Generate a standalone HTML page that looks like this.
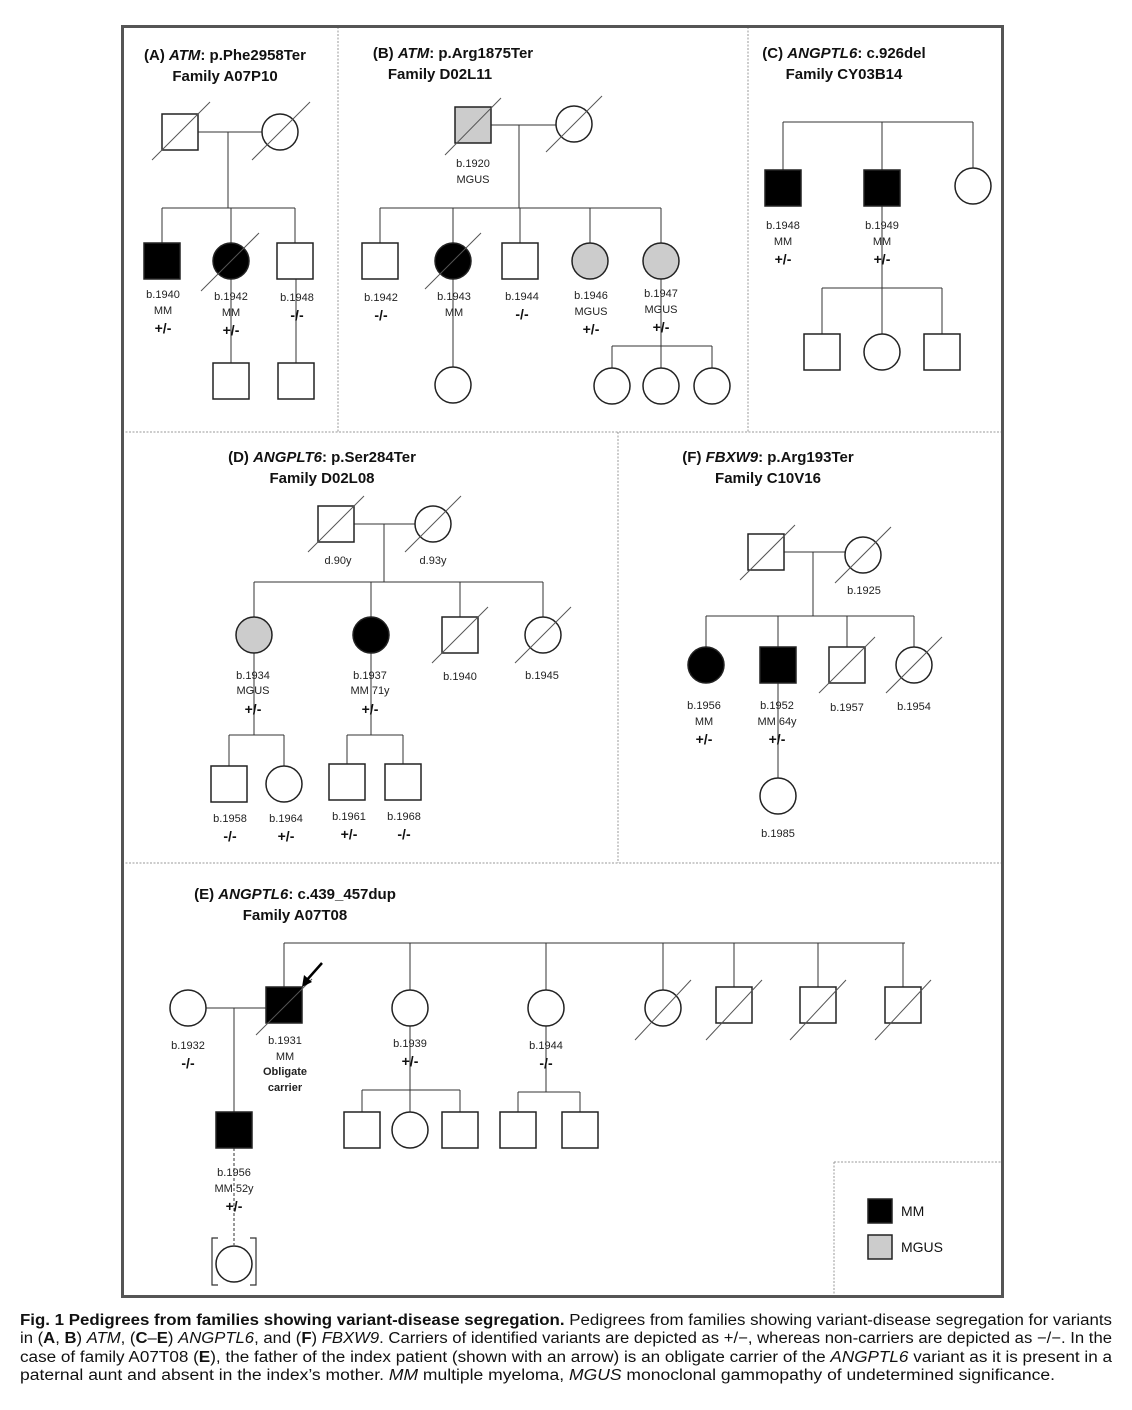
<!DOCTYPE html>
<html><head><meta charset="utf-8"><style>
html,body{margin:0;padding:0;background:#fff;}
svg{display:block;}
text{font-family:"Liberation Sans",sans-serif;fill:#111;}
.l{font-size:11px;text-anchor:middle;fill:#222;}
.g{font-size:14px;font-weight:bold;text-anchor:middle;}
.t{font-size:15px;font-weight:bold;text-anchor:middle;}
.c{font-size:15.5px;}
</style></head><body>
<svg width="1132" height="1410" viewBox="0 0 1132 1410" xmlns="http://www.w3.org/2000/svg">
<g fill="none" stroke="#999" stroke-width="1" stroke-dasharray="2,1.5">
<line x1="338" y1="27" x2="338" y2="432"/>
<line x1="748" y1="27" x2="748" y2="432"/>
<line x1="122" y1="432" x2="1003" y2="432"/>
<line x1="618" y1="432" x2="618" y2="863"/>
<line x1="122" y1="863" x2="1003" y2="863"/>
<line x1="834" y1="1162" x2="834" y2="1297"/>
<line x1="834" y1="1162" x2="1003" y2="1162"/>
</g>
<rect x="122.5" y="26.5" width="880" height="1270" fill="none" stroke="#555" stroke-width="3"/>

<!-- connector lines -->
<g stroke="#333" stroke-width="1" fill="none">
<!-- A -->
<line x1="198" y1="132" x2="262" y2="132"/><line x1="228" y1="132" x2="228" y2="208"/>
<line x1="162" y1="208" x2="295" y2="208"/>
<line x1="162" y1="208" x2="162" y2="243"/><line x1="231" y1="208" x2="231" y2="243"/><line x1="295" y1="208" x2="295" y2="243"/>
<line x1="231" y1="279" x2="231" y2="363"/><line x1="296" y1="279" x2="296" y2="363"/>
<!-- B -->
<line x1="491" y1="125" x2="556" y2="125"/><line x1="519" y1="125" x2="519" y2="208"/>
<line x1="380" y1="208" x2="661" y2="208"/>
<line x1="380" y1="208" x2="380" y2="243"/><line x1="453" y1="208" x2="453" y2="243"/><line x1="520" y1="208" x2="520" y2="243"/><line x1="590" y1="208" x2="590" y2="243"/><line x1="661" y1="208" x2="661" y2="243"/>
<line x1="453" y1="279" x2="453" y2="367"/>
<line x1="661" y1="279" x2="661" y2="346"/><line x1="612" y1="346" x2="712" y2="346"/>
<line x1="612" y1="346" x2="612" y2="368"/><line x1="661" y1="346" x2="661" y2="368"/><line x1="712" y1="346" x2="712" y2="368"/>
<!-- C -->
<line x1="783" y1="122" x2="973" y2="122"/>
<line x1="783" y1="122" x2="783" y2="170"/><line x1="882" y1="122" x2="882" y2="170"/><line x1="973" y1="122" x2="973" y2="168"/>
<line x1="882" y1="206" x2="882" y2="288"/><line x1="822" y1="288" x2="942" y2="288"/>
<line x1="822" y1="288" x2="822" y2="334"/><line x1="882" y1="288" x2="882" y2="334"/><line x1="942" y1="288" x2="942" y2="334"/>
<!-- D -->
<line x1="354" y1="524" x2="415" y2="524"/><line x1="384" y1="524" x2="384" y2="582"/>
<line x1="254" y1="582" x2="543" y2="582"/>
<line x1="254" y1="582" x2="254" y2="617"/><line x1="371" y1="582" x2="371" y2="617"/><line x1="460" y1="582" x2="460" y2="617"/><line x1="543" y1="582" x2="543" y2="617"/>
<line x1="254" y1="653" x2="254" y2="735"/><line x1="229" y1="735" x2="284" y2="735"/>
<line x1="229" y1="735" x2="229" y2="766"/><line x1="284" y1="735" x2="284" y2="766"/>
<line x1="371" y1="653" x2="371" y2="735"/><line x1="347" y1="735" x2="403" y2="735"/>
<line x1="347" y1="735" x2="347" y2="764"/><line x1="403" y1="735" x2="403" y2="764"/>
<!-- F -->
<line x1="784" y1="552" x2="845" y2="552"/><line x1="813" y1="552" x2="813" y2="616"/>
<line x1="706" y1="616" x2="914" y2="616"/>
<line x1="706" y1="616" x2="706" y2="647"/><line x1="778" y1="616" x2="778" y2="647"/><line x1="847" y1="616" x2="847" y2="647"/><line x1="914" y1="616" x2="914" y2="647"/>
<line x1="778" y1="683" x2="778" y2="778"/>
<!-- E -->
<line x1="284" y1="943" x2="905" y2="943"/>
<line x1="284" y1="943" x2="284" y2="987"/><line x1="410" y1="943" x2="410" y2="990"/><line x1="546" y1="943" x2="546" y2="990"/><line x1="663" y1="943" x2="663" y2="990"/><line x1="734" y1="943" x2="734" y2="987"/><line x1="818" y1="943" x2="818" y2="987"/><line x1="903" y1="943" x2="903" y2="987"/>
<line x1="206" y1="1008" x2="266" y2="1008"/><line x1="234" y1="1008" x2="234" y2="1112"/>
<line x1="410" y1="1026" x2="410" y2="1112"/><line x1="362" y1="1090" x2="460" y2="1090"/>
<line x1="362" y1="1090" x2="362" y2="1112"/><line x1="460" y1="1090" x2="460" y2="1112"/>
<line x1="546" y1="1026" x2="546" y2="1092"/><line x1="518" y1="1092" x2="580" y2="1092"/>
<line x1="518" y1="1092" x2="518" y2="1112"/><line x1="580" y1="1092" x2="580" y2="1112"/>
<line x1="234" y1="1148" x2="234" y2="1245" stroke-dasharray="3,2"/>
</g>

<!-- symbols -->
<g stroke="#222" stroke-width="1.5">
<!-- A -->
<rect x="162" y="114" width="36" height="36" fill="#fff"/>
<circle cx="280" cy="132" r="18" fill="#fff"/>
<rect x="144" y="243" width="36" height="36" fill="#000"/>
<circle cx="231" cy="261" r="18" fill="#000"/>
<rect x="277" y="243" width="36" height="36" fill="#fff"/>
<rect x="213" y="363" width="36" height="36" fill="#fff"/>
<rect x="278" y="363" width="36" height="36" fill="#fff"/>
<!-- B -->
<rect x="455" y="107" width="36" height="36" fill="#ccc"/>
<circle cx="574" cy="124" r="18" fill="#fff"/>
<rect x="362" y="243" width="36" height="36" fill="#fff"/>
<circle cx="453" cy="261" r="18" fill="#000"/>
<rect x="502" y="243" width="36" height="36" fill="#fff"/>
<circle cx="590" cy="261" r="18" fill="#ccc"/>
<circle cx="661" cy="261" r="18" fill="#ccc"/>
<circle cx="453" cy="385" r="18" fill="#fff"/>
<circle cx="612" cy="386" r="18" fill="#fff"/>
<circle cx="661" cy="386" r="18" fill="#fff"/>
<circle cx="712" cy="386" r="18" fill="#fff"/>
<!-- C -->
<rect x="765" y="170" width="36" height="36" fill="#000"/>
<rect x="864" y="170" width="36" height="36" fill="#000"/>
<circle cx="973" cy="186" r="18" fill="#fff"/>
<rect x="804" y="334" width="36" height="36" fill="#fff"/>
<circle cx="882" cy="352" r="18" fill="#fff"/>
<rect x="924" y="334" width="36" height="36" fill="#fff"/>
<!-- D -->
<rect x="318" y="506" width="36" height="36" fill="#fff"/>
<circle cx="433" cy="524" r="18" fill="#fff"/>
<circle cx="254" cy="635" r="18" fill="#ccc"/>
<circle cx="371" cy="635" r="18" fill="#000"/>
<rect x="442" y="617" width="36" height="36" fill="#fff"/>
<circle cx="543" cy="635" r="18" fill="#fff"/>
<rect x="211" y="766" width="36" height="36" fill="#fff"/>
<circle cx="284" cy="784" r="18" fill="#fff"/>
<rect x="329" y="764" width="36" height="36" fill="#fff"/>
<rect x="385" y="764" width="36" height="36" fill="#fff"/>
<!-- F -->
<rect x="748" y="534" width="36" height="36" fill="#fff"/>
<circle cx="863" cy="555" r="18" fill="#fff"/>
<circle cx="706" cy="665" r="18" fill="#000"/>
<rect x="760" y="647" width="36" height="36" fill="#000"/>
<rect x="829" y="647" width="36" height="36" fill="#fff"/>
<circle cx="914" cy="665" r="18" fill="#fff"/>
<circle cx="778" cy="796" r="18" fill="#fff"/>
<!-- E -->
<circle cx="188" cy="1008" r="18" fill="#fff"/>
<rect x="266" y="987" width="36" height="36" fill="#000"/>
<circle cx="410" cy="1008" r="18" fill="#fff"/>
<circle cx="546" cy="1008" r="18" fill="#fff"/>
<circle cx="663" cy="1008" r="18" fill="#fff"/>
<rect x="716" y="987" width="36" height="36" fill="#fff"/>
<rect x="800" y="987" width="36" height="36" fill="#fff"/>
<rect x="885" y="987" width="36" height="36" fill="#fff"/>
<rect x="344" y="1112" width="36" height="36" fill="#fff"/>
<circle cx="410" cy="1130" r="18" fill="#fff"/>
<rect x="442" y="1112" width="36" height="36" fill="#fff"/>
<rect x="500" y="1112" width="36" height="36" fill="#fff"/>
<rect x="562" y="1112" width="36" height="36" fill="#fff"/>
<rect x="216" y="1112" width="36" height="36" fill="#000"/>
<circle cx="234" cy="1264" r="18" fill="#fff"/>
<!-- legend -->
<rect x="868" y="1199" width="24" height="24" fill="#000"/>
<rect x="868" y="1235" width="24" height="24" fill="#ccc"/>
</g>
<!-- brackets -->
<g stroke="#333" stroke-width="1.2" fill="none">
<polyline points="218,1238 212,1238 212,1285 218,1285"/>
<polyline points="250,1238 256,1238 256,1285 250,1285"/>
</g>
<!-- deceased slashes -->
<g stroke="#555" stroke-width="1">
<line x1="152" y1="160" x2="210" y2="102"/>
<line x1="252" y1="160" x2="310" y2="102"/>
<line x1="201" y1="291" x2="259" y2="233"/>
<line x1="445" y1="155" x2="501" y2="98"/>
<line x1="546" y1="152" x2="602" y2="96"/>
<line x1="425" y1="289" x2="481" y2="233"/>
<line x1="308" y1="552" x2="364" y2="496"/>
<line x1="405" y1="552" x2="461" y2="496"/>
<line x1="432" y1="663" x2="488" y2="607"/>
<line x1="515" y1="663" x2="571" y2="607"/>
<line x1="740" y1="580" x2="795" y2="525"/>
<line x1="835" y1="583" x2="891" y2="527"/>
<line x1="819" y1="693" x2="875" y2="637"/>
<line x1="886" y1="693" x2="942" y2="637"/>
<line x1="256" y1="1035" x2="312" y2="979"/>
<line x1="635" y1="1040" x2="691" y2="980"/>
<line x1="706" y1="1040" x2="762" y2="980"/>
<line x1="790" y1="1040" x2="846" y2="980"/>
<line x1="875" y1="1040" x2="931" y2="980"/>
</g>
<!-- arrow -->
<line x1="322" y1="963" x2="306" y2="981" stroke="#000" stroke-width="2.5"/>
<polygon points="302,987 304,975 312,982" fill="#000"/>

<!-- titles -->
<text class="t" x="225" y="60"><tspan>(A) </tspan><tspan font-style="italic">ATM</tspan><tspan>: p.Phe2958Ter</tspan></text>
<text class="t" x="225" y="81">Family A07P10</text>
<text class="t" x="453" y="58"><tspan>(B) </tspan><tspan font-style="italic">ATM</tspan><tspan>: p.Arg1875Ter</tspan></text>
<text class="t" x="440" y="79">Family D02L11</text>
<text class="t" x="844" y="58"><tspan>(C) </tspan><tspan font-style="italic">ANGPTL6</tspan><tspan>: c.926del</tspan></text>
<text class="t" x="844" y="79">Family CY03B14</text>
<text class="t" x="322" y="462"><tspan>(D) </tspan><tspan font-style="italic">ANGPLT6</tspan><tspan>: p.Ser284Ter</tspan></text>
<text class="t" x="322" y="483">Family D02L08</text>
<text class="t" x="768" y="462"><tspan>(F) </tspan><tspan font-style="italic">FBXW9</tspan><tspan>: p.Arg193Ter</tspan></text>
<text class="t" x="768" y="483">Family C10V16</text>
<text class="t" x="295" y="899"><tspan>(E) </tspan><tspan font-style="italic">ANGPTL6</tspan><tspan>: c.439_457dup</tspan></text>
<text class="t" x="295" y="920">Family A07T08</text>

<!-- labels A -->
<text class="l" x="163" y="298">b.1940</text><text class="l" x="163" y="314">MM</text><text class="g" x="163" y="333">+/-</text>
<text class="l" x="231" y="300">b.1942</text><text class="l" x="231" y="316">MM</text><text class="g" x="231" y="335">+/-</text>
<text class="l" x="297" y="301">b.1948</text><text class="g" x="297" y="320">-/-</text>
<!-- labels B -->
<text class="l" x="473" y="167">b.1920</text><text class="l" x="473" y="183">MGUS</text>
<text class="l" x="381" y="301">b.1942</text><text class="g" x="381" y="320">-/-</text>
<text class="l" x="454" y="300">b.1943</text><text class="l" x="454" y="316">MM</text>
<text class="l" x="522" y="300">b.1944</text><text class="g" x="522" y="319">-/-</text>
<text class="l" x="591" y="299">b.1946</text><text class="l" x="591" y="315">MGUS</text><text class="g" x="591" y="334">+/-</text>
<text class="l" x="661" y="297">b.1947</text><text class="l" x="661" y="313">MGUS</text><text class="g" x="661" y="332">+/-</text>
<!-- labels C -->
<text class="l" x="783" y="229">b.1948</text><text class="l" x="783" y="245">MM</text><text class="g" x="783" y="264">+/-</text>
<text class="l" x="882" y="229">b.1949</text><text class="l" x="882" y="245">MM</text><text class="g" x="882" y="264">+/-</text>
<!-- labels D -->
<text class="l" x="338" y="564">d.90y</text><text class="l" x="433" y="564">d.93y</text>
<text class="l" x="253" y="679">b.1934</text><text class="l" x="253" y="694">MGUS</text><text class="g" x="253" y="714">+/-</text>
<text class="l" x="370" y="679">b.1937</text><text class="l" x="370" y="694">MM 71y</text><text class="g" x="370" y="714">+/-</text>
<text class="l" x="460" y="680">b.1940</text>
<text class="l" x="542" y="679">b.1945</text>
<text class="l" x="230" y="822">b.1958</text><text class="g" x="230" y="841">-/-</text>
<text class="l" x="286" y="822">b.1964</text><text class="g" x="286" y="841">+/-</text>
<text class="l" x="349" y="820">b.1961</text><text class="g" x="349" y="839">+/-</text>
<text class="l" x="404" y="820">b.1968</text><text class="g" x="404" y="839">-/-</text>
<!-- labels F -->
<text class="l" x="864" y="594">b.1925</text>
<text class="l" x="704" y="709">b.1956</text><text class="l" x="704" y="725">MM</text><text class="g" x="704" y="744">+/-</text>
<text class="l" x="777" y="709">b.1952</text><text class="l" x="777" y="725">MM 64y</text><text class="g" x="777" y="744">+/-</text>
<text class="l" x="847" y="711">b.1957</text>
<text class="l" x="914" y="710">b.1954</text>
<text class="l" x="778" y="837">b.1985</text>
<!-- labels E -->
<text class="l" x="188" y="1049">b.1932</text><text class="g" x="188" y="1068">-/-</text>
<text class="l" x="285" y="1044">b.1931</text><text class="l" x="285" y="1060">MM</text>
<text class="l" x="285" y="1075" font-weight="bold">Obligate</text><text class="l" x="285" y="1091" font-weight="bold">carrier</text>
<text class="l" x="410" y="1047">b.1939</text><text class="g" x="410" y="1066">+/-</text>
<text class="l" x="546" y="1049">b.1944</text><text class="g" x="546" y="1068">-/-</text>
<text class="l" x="234" y="1176">b.1956</text><text class="l" x="234" y="1192">MM 52y</text><text class="g" x="234" y="1211">+/-</text>
<!-- legend text -->
<text x="901" y="1216" font-size="14">MM</text>
<text x="901" y="1252" font-size="14">MGUS</text>

<!-- caption -->
<text class="c" x="20" y="1325" textLength="1092" lengthAdjust="spacingAndGlyphs"><tspan font-weight="bold">Fig. 1   Pedigrees from families showing variant-disease segregation.</tspan> Pedigrees from families showing variant-disease segregation for variants</text>
<text class="c" x="20" y="1343" textLength="1092" lengthAdjust="spacingAndGlyphs">in (<tspan font-weight="bold">A</tspan>, <tspan font-weight="bold">B</tspan>) <tspan font-style="italic">ATM</tspan>, (<tspan font-weight="bold">C</tspan>–<tspan font-weight="bold">E</tspan>) <tspan font-style="italic">ANGPTL6</tspan>, and (<tspan font-weight="bold">F</tspan>) <tspan font-style="italic">FBXW9</tspan>. Carriers of identified variants are depicted as +/−, whereas non-carriers are depicted as −/−. In the</text>
<text class="c" x="20" y="1362" textLength="1092" lengthAdjust="spacingAndGlyphs">case of family A07T08 (<tspan font-weight="bold">E</tspan>), the father of the index patient (shown with an arrow) is an obligate carrier of the <tspan font-style="italic">ANGPTL6</tspan> variant as it is present in a</text>
<text class="c" x="20" y="1380" textLength="1035" lengthAdjust="spacingAndGlyphs">paternal aunt and absent in the index’s mother. <tspan font-style="italic">MM</tspan> multiple myeloma, <tspan font-style="italic">MGUS</tspan> monoclonal gammopathy of undetermined significance.</text>
</svg>
</body></html>
